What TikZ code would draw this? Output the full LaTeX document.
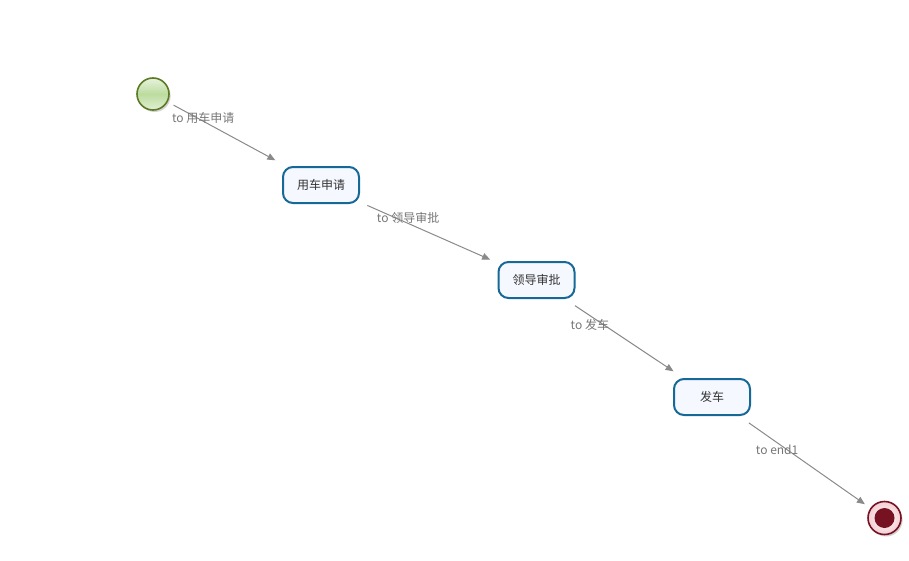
\documentclass[tikz,border=0pt]{standalone}
\usepackage{fontspec}
\newfontfamily\cjk{Noto Sans CJK SC}
\usetikzlibrary{arrows.meta,shadows}
\definecolor{taskblue}{RGB}{22,104,150}
\definecolor{taskfill}{RGB}{246,248,255}
\definecolor{flowgray}{RGB}{138,138,138}
\definecolor{labelgray}{RGB}{118,118,118}
\definecolor{startgreen}{RGB}{92,122,36}
\definecolor{startband}{RGB}{188,220,158}
\definecolor{endred}{RGB}{118,18,34}
\definecolor{endpink}{RGB}{244,206,211}

\begin{document}
\begin{tikzpicture}[x=0.75pt,y=0.75pt,yscale=-1,xscale=1,
  task/.style={draw=taskblue, line width=1.5pt, fill=taskfill, rounded corners=7.5pt,
    minimum width=57pt, minimum height=27pt, inner sep=0pt,
    font=\cjk\fontsize{9pt}{11pt}\selectfont, text=black!80},
  startev/.style={circle, draw=startgreen, line width=1.2pt, minimum size=24pt, inner sep=0pt,
    top color=startband!35!white, bottom color=startband!45!white, middle color=startband,
    drop shadow={shadow xshift=1.2pt, shadow yshift=-1.5pt, opacity=0.35}},
  endev/.style={circle, draw=endred, line width=1.2pt, minimum size=24.75pt, inner sep=0pt,
    inner color=white, outer color=endpink,
    drop shadow={shadow xshift=1.2pt, shadow yshift=-1.5pt, opacity=0.35}},
  flow/.style={draw=flowgray, line width=0.75pt, -{Triangle[length=6pt,width=5pt]},
    shorten <=9pt, shorten >=9pt},
  flowlabel/.style={font=\cjk\fontsize{9pt}{11pt}\selectfont, text=labelgray, inner sep=1pt}]
\useasboundingbox (0,0) rectangle (909,560);

%Start event
\node[startev] (start) at (153,94) {};
%Tasks
\node[task] (usecar) at (321,185) {用车申请};
\node[task] (approve) at (536.5,280) {领导审批};
\node[task] (dispatch) at (712,397) {发车};
%End event
\node[endev] (end1) at (884.5,518) {};
\fill[endred] (end1.center) circle (10);

%Sequence flows
\draw[flow, shorten <=5pt] (start) -- (usecar)
  node[flowlabel, pos=0.3, yshift=2.3pt] {to 用车申请};
\draw[flow, shorten <=6pt, shorten >=6pt] (usecar) -- (approve)
  node[flowlabel, pos=0.35, yshift=4pt] {to 领导审批};
\draw[flow] (approve) -- (dispatch)
  node[flowlabel, pos=0.21, yshift=-7pt] {to 发车};
\draw[flow, shorten >=5pt] (dispatch) -- (end1)
  node[flowlabel, pos=0.29, yshift=-5pt] {to end1};

\end{tikzpicture}
\end{document}
